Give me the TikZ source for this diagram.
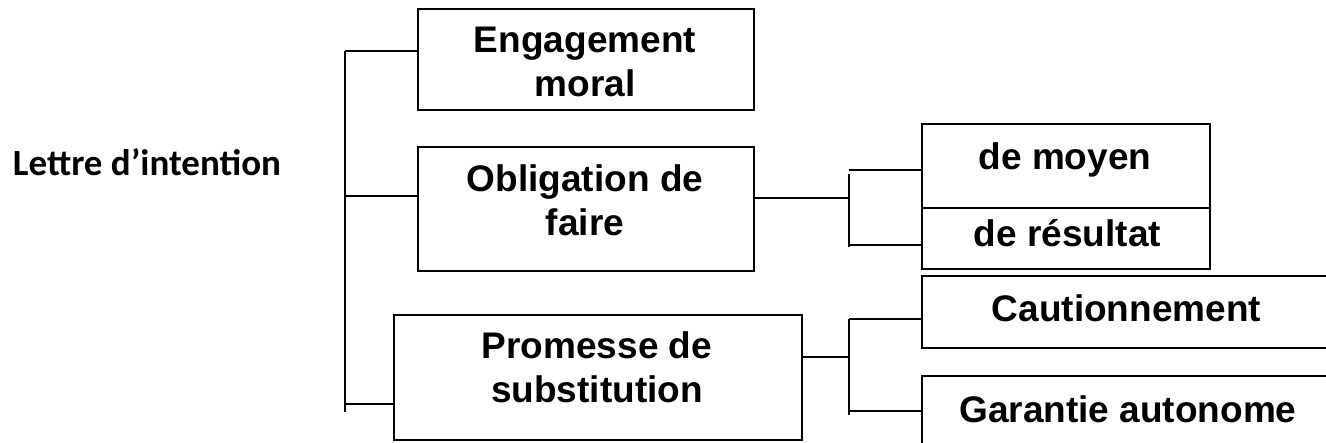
\documentclass[tikz,border=0pt]{standalone}
\usepackage{fontspec}
\setmainfont{Liberation Sans}
\newfontfamily\calfont{Carlito}
\begin{document}
\begin{tikzpicture}[x=1pt,y=-1pt,
  box/.style={draw,line width=1.8pt,rectangle,inner sep=0pt,anchor=north west},
  conn/.style={line width=1.8pt},
  txt/.style={inner sep=0pt,font=\fontsize{37}{44}\selectfont\bfseries,align=center},
  stxt/.style={inner sep=0pt,font=\fontsize{37}{44}\selectfont\bfseries,anchor=base},
]
\useasboundingbox (0,0) rectangle (1326,443);
\clip (0,0) rectangle (1326,443);
% boxes
\node[box,minimum width=336pt,minimum height=101pt] (em) at (417,8) {};
\node[box,minimum width=336pt,minimum height=124pt] (ob) at (417,146) {};
\node[box,minimum width=408pt,minimum height=125pt] (pr) at (393,314) {};
\node[box,minimum width=288pt,minimum height=84pt] (mo) at (921,123) {};
\node[box,minimum width=288pt,minimum height=61pt] (re) at (921,207) {};
\node[box,minimum width=450pt,minimum height=72pt] (ca) at (921,275) {};
\node[box,minimum width=450pt,minimum height=90pt] (ga) at (921,375) {};
% texts
\node[inner sep=0pt,anchor=base,font=\fontsize{37}{44}\selectfont\calfont\bfseries] (lt) at (147,176) {Lettre d’intention};
\node[txt] (emt) at (585,62) {Engagement\\moral};
\node[txt] (obt) at (585,200) {Obligation de\\faire};
\node[txt] (prt) at (597,367.5) {Promesse de\\substitution};
\node[stxt] (mot) at (1065,170) {de moyen};
\node[stxt] (ret) at (1067.5,247) {de résultat};
\node[stxt] (cat) at (1126.5,322) {Cautionnement};
\node[stxt] (gat) at (1128,423) {Garantie autonome};
% left bracket
\coordinate (b1) at (345,51);
\coordinate (b2) at (345,196);
\coordinate (b3) at (345,404);
\coordinate (b4) at (345,412);
\draw[conn] (b1) -- (b4);
\draw[conn] (b1) -- (b1 -| em.west);
\draw[conn] (b2) -- (b2 -| ob.west);
\draw[conn] (b3) -- (b3 -| pr.west);
% obligation bracket
\coordinate (o0) at (849,198);
\coordinate (o1) at (849,170);
\coordinate (o1v) at (849,174);
\coordinate (o2) at (849,245);
\coordinate (o2v) at (849,247);
\draw[conn] (o0 -| ob.east) -- (o0);
\draw[conn] (o1v) -- (o2v);
\draw[conn] (o1) -- (o1 -| mo.west);
\draw[conn] (o2) -- (o2 -| re.west);
% promesse bracket
\coordinate (p0) at (849,357);
\coordinate (p1) at (849,319);
\coordinate (p2) at (849,411);
\coordinate (p2v) at (849,415);
\draw[conn] (p0 -| pr.east) -- (p0);
\draw[conn] (p1) -- (p2v);
\draw[conn] (p1) -- (p1 -| ca.west);
\draw[conn] (p2) -- (p2 -| ga.west);
\end{tikzpicture}
\end{document}
